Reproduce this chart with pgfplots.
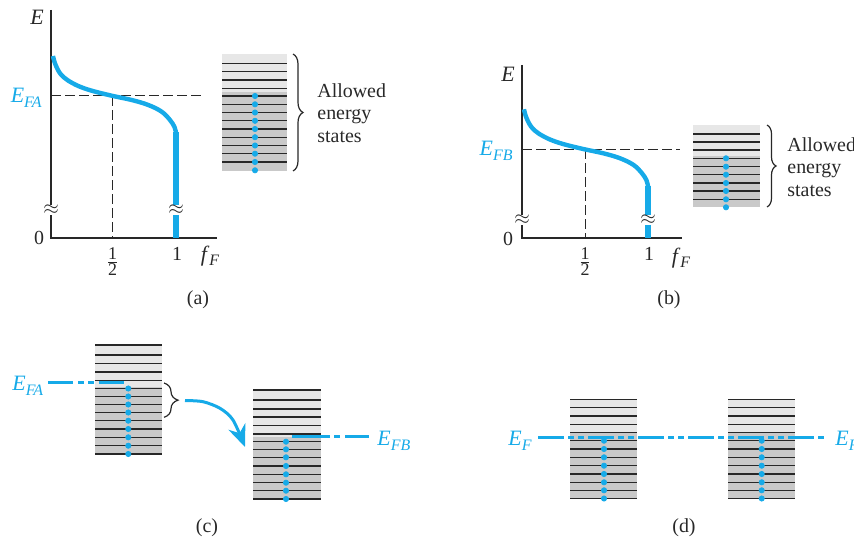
\documentclass[border=0pt]{standalone}
\usepackage{pgfplots}
\pgfplotsset{compat=1.18}
\usepackage{fontspec}
\setmainfont{Liberation Serif}
\usetikzlibrary{arrows.meta,decorations.pathreplacing}

\definecolor{fermiblue}{RGB}{22,170,232}
\definecolor{emptyband}{RGB}{231,231,231}
\definecolor{fullband}{RGB}{201,201,201}
\definecolor{ink}{RGB}{40,40,40}

% italic subscript set in text
\newcommand{\sub}[1]{\raisebox{-0.45ex}{\footnotesize\itshape #1}}
\newcommand{\half}{$\frac{\mbox{\small 1}}{\mbox{\small 2}}$}

\pgfplotsset{
  boxline/.style={ink, line width=0.55bp, unbounded coords=jump, forget plot},
  statedot/.style={only marks, mark=*, mark size=1.3bp, fermiblue,
                   mark options={draw=none, fill=fermiblue}, forget plot},
  guide/.style={ink, line width=0.5bp, dash pattern=on 5bp off 2bp, forget plot},
  axisline/.style={ink, line width=0.8bp, forget plot},
  fermi/.style={fermiblue, line width=2.2bp, forget plot},
  level/.style={fermiblue, line width=1.5bp, forget plot},
  band/.style={draw=none, forget plot},
}
\tikzset{
  blue label/.style={text=fermiblue, inner sep=0pt, font=\fontsize{11}{13}\selectfont},
  states label/.style={text=ink, anchor=west, align=left, inner sep=0pt,
                       font=\fontsize{10}{11.2}\selectfont},
}

\begin{document}
\begin{tikzpicture}
\begin{axis}[
  at={(0,0)}, anchor=south west,
  scale only axis, width=427bp, height=270.5bp,
  xmin=0, xmax=854, ymin=0, ymax=541, y dir=reverse,
  hide axis, clip=false,
]

% ---------------- (a) Fermi function, metal A ----------------
\addplot[guide] coordinates {(51,96) (203,96)};
\addplot[guide] coordinates {(112.5,96) (112.5,238)};
\addplot[axisline] coordinates {(51,10) (51,238) (217,238)};
\addplot[fermi, smooth, tension=0.6] coordinates {
  (53,56) (54.5,62) (57,68) (60,73.3) (64,77.5) (68.3,80.7) (78.3,86)
  (91.7,90.7) (111.7,95.7) (131.7,100) (148.3,105) (161.7,111.7)
  (170,120) (174.5,127) (176,133)};
\addplot[fermi, line width=2.6bp] coordinates {(176,132) (176,238)};

\node[fill=white, inner sep=0.2bp, text=ink] at (axis cs:51,210) {$\approx$};
\node[fill=white, inner sep=0.2bp, text=ink] at (axis cs:176,210) {$\approx$};

\node[text=ink, font=\fontsize{11}{13}\selectfont] at (axis cs:37,17) {\textit{E}};
\node[blue label, anchor=east] at (axis cs:42,98) {\textit{E}\sub{FA}};
\node[text=ink] at (axis cs:39,238) {0};
\node[text=ink] at (axis cs:112.5,262) {\half};
\node[text=ink] at (axis cs:177,254) {1};
\node[text=ink, font=\fontsize{11}{13}\selectfont] at (axis cs:210,256) {\textit{f}\sub{F}};
\node[text=ink] at (axis cs:198,300) {(a)};

% energy levels of A
\addplot[band, fill=emptyband] coordinates {(222,54) (287,54) (287,92) (222,92)};
\addplot[band, fill=fullband]  coordinates {(222,92) (287,92) (287,171) (222,171)};
\addplot[boxline] coordinates {
  (222,63.3)(287,63.3)(nan,nan) (222,71.7)(287,71.7)(nan,nan)
  (222,80)(287,80)(nan,nan)     (222,88.3)(287,88.3)(nan,nan)
  (222,96)(287,96)(nan,nan)     (222,104.3)(287,104.3)(nan,nan)
  (222,112.5)(287,112.5)(nan,nan) (222,120.8)(287,120.8)(nan,nan)
  (222,129)(287,129)(nan,nan)   (222,137.2)(287,137.2)(nan,nan)
  (222,145.5)(287,145.5)(nan,nan) (222,153.7)(287,153.7)(nan,nan)
  (222,162)(287,162)};
\addplot[statedot] coordinates {
  (255,96) (255,104.3) (255,112.5) (255,120.8) (255,129)
  (255,137.2) (255,145.5) (255,153.7) (255,162) (255,170.3)};
\draw[ink, line width=0.6bp, decorate, decoration={brace, amplitude=5bp}]
  (axis cs:293,54) -- (axis cs:293,171);
\node[states label] at (axis cs:317,113) {Allowed\\energy\\states};

% ---------------- (b) Fermi function, metal B ----------------
\addplot[guide] coordinates {(522,149.3) (680,149.3)};
\addplot[guide] coordinates {(585,149.3) (585,238)};
\addplot[axisline] coordinates {(522,65) (522,238) (682,238)};
\addplot[fermi, smooth, tension=0.6] coordinates {
  (524,109.3) (525.5,115.3) (528,121.3) (531.1,126.6) (535.1,130.8)
  (539.4,134) (549.5,139.3) (563,144) (583.2,149) (603.3,153.3)
  (620.1,158.3) (633.6,165) (642,173.3) (646.5,180.3) (648,186.3)};
\addplot[fermi, line width=2.6bp] coordinates {(648,185.5) (648,238)};

\node[fill=white, inner sep=0.2bp, text=ink] at (axis cs:522,220) {$\approx$};
\node[fill=white, inner sep=0.2bp, text=ink] at (axis cs:648,220) {$\approx$};

\node[text=ink, font=\fontsize{11}{13}\selectfont] at (axis cs:508,74) {\textit{E}};
\node[blue label, anchor=east] at (axis cs:513,151) {\textit{E}\sub{FB}};
\node[text=ink] at (axis cs:508,239) {0};
\node[text=ink] at (axis cs:585,262) {\half};
\node[text=ink] at (axis cs:649,254) {1};
\node[text=ink, font=\fontsize{11}{13}\selectfont] at (axis cs:681,258) {\textit{f}\sub{F}};
\node[text=ink] at (axis cs:669,300) {(b)};

% energy levels of B
\addplot[band, fill=emptyband] coordinates {(693,125) (760,125) (760,156) (693,156)};
\addplot[band, fill=fullband]  coordinates {(693,156) (760,156) (760,206.7) (693,206.7)};
\addplot[boxline] coordinates {
  (693,134)(760,134)(nan,nan)     (693,142)(760,142)(nan,nan)
  (693,150)(760,150)(nan,nan)     (693,158.3)(760,158.3)(nan,nan)
  (693,166.7)(760,166.7)(nan,nan) (693,174.7)(760,174.7)(nan,nan)
  (693,183)(760,183)(nan,nan)     (693,191)(760,191)(nan,nan)
  (693,199.3)(760,199.3)};
\addplot[statedot] coordinates {
  (726,158.3) (726,166.7) (726,174.7) (726,183) (726,191) (726,199.3) (726,207.3)};
\draw[ink, line width=0.6bp, decorate, decoration={brace, amplitude=4.5bp}]
  (axis cs:767,125) -- (axis cs:767,207);
\node[states label] at (axis cs:787,167) {Allowed\\energy\\states};

% ---------------- (c) A and B before contact ----------------
\addplot[band, fill=emptyband] coordinates {(95,345) (161.7,345) (161.7,386.7) (95,386.7)};
\addplot[band, fill=fullband]  coordinates {(95,386.7) (161.7,386.7) (161.7,454) (95,454)};
\addplot[boxline] coordinates {
  (95,345)(161.7,345)(nan,nan)     (95,355)(161.7,355)(nan,nan)
  (95,363.5)(161.7,363.5)(nan,nan) (95,372)(161.7,372)(nan,nan)
  (95,380.5)(161.7,380.5)(nan,nan) (95,388.5)(161.7,388.5)(nan,nan)
  (95,396.5)(161.7,396.5)(nan,nan) (95,404.5)(161.7,404.5)(nan,nan)
  (95,412.5)(161.7,412.5)(nan,nan) (95,420.7)(161.7,420.7)(nan,nan)
  (95,429)(161.7,429)(nan,nan)     (95,437.3)(161.7,437.3)(nan,nan)
  (95,445.7)(161.7,445.7)(nan,nan) (95,454)(161.7,454)};
\addplot[level, dash pattern=on 12.5bp off 2.5bp on 3bp off 2bp on 3bp off 2.5bp]
  coordinates {(48,382.3) (124,382.3)};
\addplot[statedot] coordinates {
  (128.3,388.5) (128.3,396.5) (128.3,404.5) (128.3,412.5) (128.3,420.7)
  (128.3,429) (128.3,437.3) (128.3,445.7) (128.3,454)};
\node[blue label, anchor=west] at (axis cs:12,386) {\textit{E}\sub{FA}};
\draw[ink, line width=0.6bp, decorate, decoration={brace, amplitude=7bp}]
  (axis cs:164,383) -- (axis cs:164,417.3);

\addplot[fermiblue, line width=1.5bp, smooth, forget plot,
         -{Stealth[length=11bp, width=9bp]}]
  coordinates {(185,400.5) (203,401.7) (220,408.3) (233,420) (245,447)};

\addplot[band, fill=emptyband] coordinates {(253.3,390) (320.7,390) (320.7,437.3) (253.3,437.3)};
\addplot[band, fill=fullband]  coordinates {(253.3,437.3) (320.7,437.3) (320.7,499) (253.3,499)};
\addplot[boxline] coordinates {
  (253.3,390)(320.7,390)(nan,nan)     (253.3,400)(320.7,400)(nan,nan)
  (253.3,409)(320.7,409)(nan,nan)     (253.3,417)(320.7,417)(nan,nan)
  (253.3,425.5)(320.7,425.5)(nan,nan) (253.3,434)(320.7,434)(nan,nan)
  (253.3,441.7)(320.7,441.7)(nan,nan) (253.3,449.3)(320.7,449.3)(nan,nan)
  (253.3,457.3)(320.7,457.3)(nan,nan) (253.3,466)(320.7,466)(nan,nan)
  (253.3,474.3)(320.7,474.3)(nan,nan) (253.3,482.7)(320.7,482.7)(nan,nan)
  (253.3,490.7)(320.7,490.7)(nan,nan) (253.3,499)(320.7,499)};
\addplot[level, dash pattern=on 19bp off 2bp on 3bp off 2.5bp on 12bp]
  coordinates {(292,436) (369,436)};
\addplot[statedot] coordinates {
  (286,441.7) (286,449.3) (286,457.3) (286,466) (286,474.3)
  (286,482.7) (286,490.7) (286,499)};
\node[blue label, anchor=west] at (axis cs:377,441) {\textit{E}\sub{FB}};
\node[text=ink] at (axis cs:207,528) {(c)};

% ---------------- (d) A and B in contact ----------------
\addplot[band, fill=emptyband] coordinates {(570,399.3) (636.7,399.3) (636.7,433.3) (570,433.3)};
\addplot[band, fill=fullband]  coordinates {(570,433.3) (636.7,433.3) (636.7,499) (570,499)};
\addplot[band, fill=emptyband] coordinates {(728.3,399.3) (795,399.3) (795,433.3) (728.3,433.3)};
\addplot[band, fill=fullband]  coordinates {(728.3,433.3) (795,433.3) (795,499) (728.3,499)};
\addplot[boxline] coordinates {
  (570,399.3)(636.7,399.3)(nan,nan) (570,407.7)(636.7,407.7)(nan,nan)
  (570,416)(636.7,416)(nan,nan)     (570,424.3)(636.7,424.3)(nan,nan)
  (570,432.7)(636.7,432.7)(nan,nan) (570,440.7)(636.7,440.7)(nan,nan)
  (570,449)(636.7,449)(nan,nan)     (570,457.3)(636.7,457.3)(nan,nan)
  (570,465.7)(636.7,465.7)(nan,nan) (570,474)(636.7,474)(nan,nan)
  (570,482.3)(636.7,482.3)(nan,nan) (570,490.3)(636.7,490.3)(nan,nan)
  (570,498.5)(636.7,498.5)};
\addplot[boxline] coordinates {
  (728.3,399.3)(795,399.3)(nan,nan) (728.3,407.7)(795,407.7)(nan,nan)
  (728.3,416)(795,416)(nan,nan)     (728.3,424.3)(795,424.3)(nan,nan)
  (728.3,432.7)(795,432.7)(nan,nan) (728.3,440.7)(795,440.7)(nan,nan)
  (728.3,449)(795,449)(nan,nan)     (728.3,457.3)(795,457.3)(nan,nan)
  (728.3,465.7)(795,465.7)(nan,nan) (728.3,474)(795,474)(nan,nan)
  (728.3,482.3)(795,482.3)(nan,nan) (728.3,490.3)(795,490.3)(nan,nan)
  (728.3,498.5)(795,498.5)};
\addplot[level, dash pattern=on 13bp off 2bp on 3bp off 2bp on 3bp off 2bp]
  coordinates {(538,437) (827,437)};
\addplot[statedot] coordinates {
  (604,440.7) (604,449) (604,457.3) (604,465.7) (604,474) (604,482.3) (604,490.3) (604,498.5)};
\addplot[statedot] coordinates {
  (761.7,440.7) (761.7,449) (761.7,457.3) (761.7,465.7) (761.7,474) (761.7,482.3) (761.7,490.3) (761.7,498.5)};
\node[blue label, anchor=west] at (axis cs:508,441) {\textit{E}\sub{F}};
\node[blue label, anchor=west] at (axis cs:835,441) {\textit{E}\sub{F}};
\node[text=ink] at (axis cs:684,528) {(d)};

\end{axis}
\pgfresetboundingbox
\path[use as bounding box] (0,0) rectangle (427bp,270.5bp);
\end{tikzpicture}
\end{document}
